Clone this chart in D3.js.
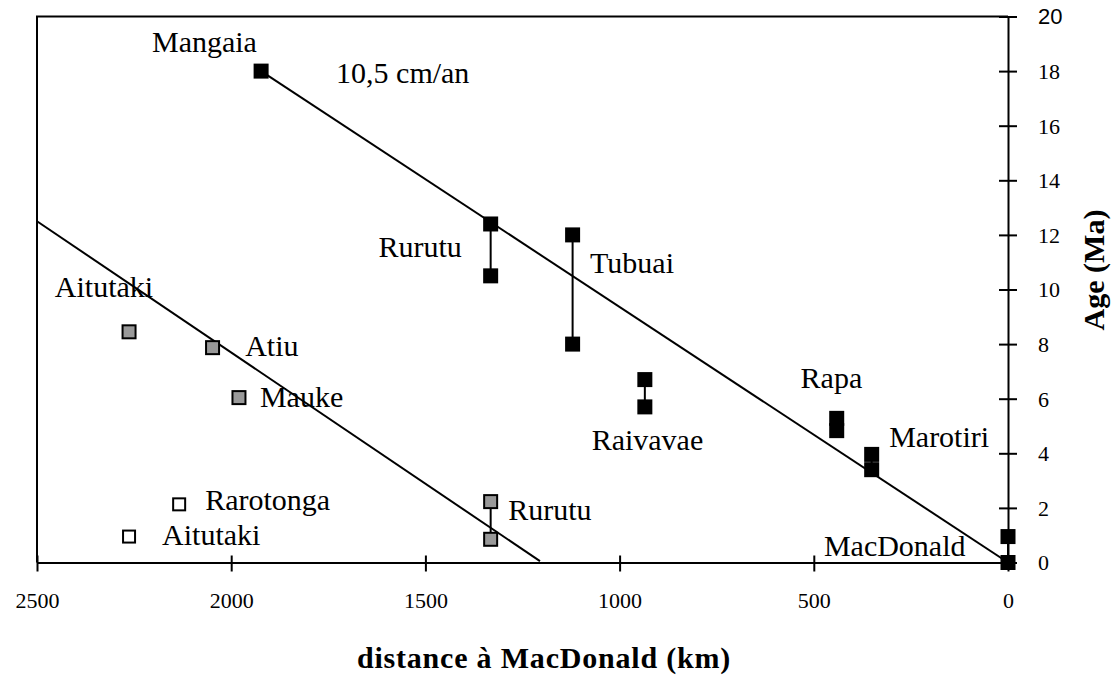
<!DOCTYPE html>
<html>
<head>
<meta charset="utf-8">
<script src="https://cdn.jsdelivr.net/npm/d3@7"></script>
<style>
  body { margin: 0; background: #fff; }
  text { font-family: "Liberation Serif", "Times New Roman", serif; fill: #000; }
</style>
</head>
<body>
<div id="chart"></div>
<script>
// Austral chain (black squares)
var australIslands = ["Mangaia", "Rurutu", "Rurutu", "Tubuai", "Tubuai", "Raivavae", "Raivavae",
                      "Rapa", "Rapa", "Marotiri", "Marotiri", "MacDonald", "MacDonald"];
var australDist = [1923, 1332, 1332, 1121, 1121, 935, 935, 441, 441, 351, 351, 0, 0];
var australAge  = [18.0, 12.4, 10.5, 12.0, 8.0, 6.7, 5.7, 5.28, 4.83, 3.96, 3.4, 0.95, 0];

// Cook chain, older ages (grey squares)
var cookIslands = ["Aitutaki", "Atiu", "Mauke", "Rurutu", "Rurutu"];
var cookDist = [2263, 2048, 1980, 1332, 1332];
var cookAge  = [8.45, 7.87, 6.04, 2.23, 0.85];

// young volcanism (white squares)
var youngIslands = ["Rarotonga", "Aitutaki"];
var youngDist = [2134, 2263];
var youngAge  = [2.13, 0.95];

// regression lines [distance, age]
var trendAustral = [[1923, 18.0], [0, 0]];
var trendCook = [[2500, 12.5], [1205, 0.05]];

var xTicks = [2500, 2000, 1500, 1000, 500, 0];
var yTicks = [0, 2, 4, 6, 8, 10, 12, 14, 16, 18, 20];

// annotations: text, distance, age (left edge / baseline)
var labelText = ["Mangaia", "10,5 cm/an", "Rurutu", "Tubuai", "Raivavae", "Rapa", "Marotiri", "MacDonald",
                 "Aitutaki", "Atiu", "Mauke", "Rarotonga", "Aitutaki", "Rurutu"];
var labelDist = [2204, 1730, 1621, 1076, 1072, 534, 306, 474, 2454, 1964, 1926, 2067, 2178, 1287];
var labelAge  = [18.71, 17.58, 11.2, 10.62, 4.12, 6.38, 4.24, 0.24, 9.74, 7.56, 5.71, 1.92, 0.64, 1.56];

var width = 1116, height = 675;
var plotLeft = 37, plotRight = 1008, plotTop = 16.5, plotBottom = 562.5;

var svg = d3.select("#chart").append("svg")
    .attr("width", width)
    .attr("height", height);

var x = d3.scaleLinear().domain([2500, 0]).range([plotLeft, plotRight]);
var y = d3.scaleLinear().domain([0, 20]).range([plotBottom, plotTop]);

// frame (top and left)
svg.append("path")
    .attr("d", "M" + plotRight + "," + plotTop + "H" + plotLeft + "V" + plotBottom)
    .attr("fill", "none")
    .attr("stroke", "#000")
    .attr("stroke-width", 2);

// bottom axis
var gx = svg.append("g")
    .attr("transform", "translate(0," + plotBottom + ")")
    .call(d3.axisBottom(x).tickValues(xTicks).tickFormat(d3.format("d")).tickSizeOuter(0).tickSize(0));
gx.select(".domain").attr("stroke-width", 2);
gx.selectAll(".tick line").attr("y1", -7).attr("y2", 9).attr("stroke-width", 2);
gx.selectAll(".tick text")
    .attr("y", 45.5).attr("dy", 0)
    .style("font-size", "22px")
    .style("font-family", "'Liberation Serif', 'Times New Roman', serif");

// right axis
var gy = svg.append("g")
    .attr("transform", "translate(" + plotRight + ",0)")
    .call(d3.axisRight(y).tickValues(yTicks).tickFormat(d3.format("d")).tickSizeOuter(0).tickSize(0));
gy.select(".domain").attr("stroke-width", 2);
gy.selectAll(".tick line").attr("x1", -9).attr("x2", 9).attr("stroke-width", 2);
gy.selectAll(".tick text")
    .attr("x", 30).attr("dy", "0.34em")
    .attr("text-anchor", "start")
    .style("font-size", "22px")
    .style("font-family", function(d) {
        return d == 20 ? "'Liberation Sans', Arial, sans-serif" : "'Liberation Serif', 'Times New Roman', serif";
    });

// axis titles
svg.append("text")
    .attr("x", 544)
    .attr("y", 668)
    .attr("text-anchor", "middle")
    .style("font-size", "30px")
    .style("font-weight", "bold")
    .style("letter-spacing", "0.8px")
    .text("distance à MacDonald (km)");

svg.append("text")
    .attr("transform", "translate(1104,270) rotate(-90)")
    .attr("text-anchor", "middle")
    .style("font-size", "30px")
    .style("font-weight", "bold")
    .text("Age (Ma)");

// regression lines
var line = d3.line().x(function(d) { return x(d[0]); }).y(function(d) { return y(d[1]); });
[trendAustral, trendCook].forEach(function(t) {
    svg.append("path")
        .attr("d", line(t))
        .attr("fill", "none")
        .attr("stroke", "#000")
        .attr("stroke-width", 2);
});

// age ranges: connect the two dates of one island
function drawRanges(names, dist, age) {
    var groups = d3.group(d3.range(names.length), function(i) { return names[i] + "_" + dist[i]; });
    groups.forEach(function(idx) {
        if (idx.length < 2) return;
        var ages = idx.map(function(i) { return age[i]; });
        svg.append("line")
            .attr("x1", x(dist[idx[0]])).attr("x2", x(dist[idx[0]]))
            .attr("y1", y(d3.min(ages))).attr("y2", y(d3.max(ages)))
            .attr("stroke", "#000")
            .attr("stroke-width", 2);
    });
}
drawRanges(australIslands, australDist, australAge);
drawRanges(cookIslands, cookDist, cookAge);

// squares
function drawSquares(dist, age, fill, size, stroke) {
    svg.append("g").selectAll("rect")
        .data(d3.range(dist.length))
        .join("rect")
        .attr("x", function(i) { return x(dist[i]) - size / 2; })
        .attr("y", function(i) { return y(age[i]) - size / 2; })
        .attr("width", size)
        .attr("height", size)
        .attr("fill", fill)
        .attr("stroke", stroke)
        .attr("stroke-width", stroke == "none" ? 0 : 2);
}
drawSquares(australDist, australAge, "#000", 15, "none");
drawSquares(cookDist, cookAge, "#999999", 13, "#000");
drawSquares(youngDist, youngAge, "#fff", 12, "#000");

// labels
svg.append("g").selectAll("text")
    .data(d3.range(labelText.length))
    .join("text")
    .attr("x", function(i) { return x(labelDist[i]); })
    .attr("y", function(i) { return y(labelAge[i]); })
    .style("font-size", "30px")
    .text(function(i) { return labelText[i]; });
</script>
</body>
</html>
